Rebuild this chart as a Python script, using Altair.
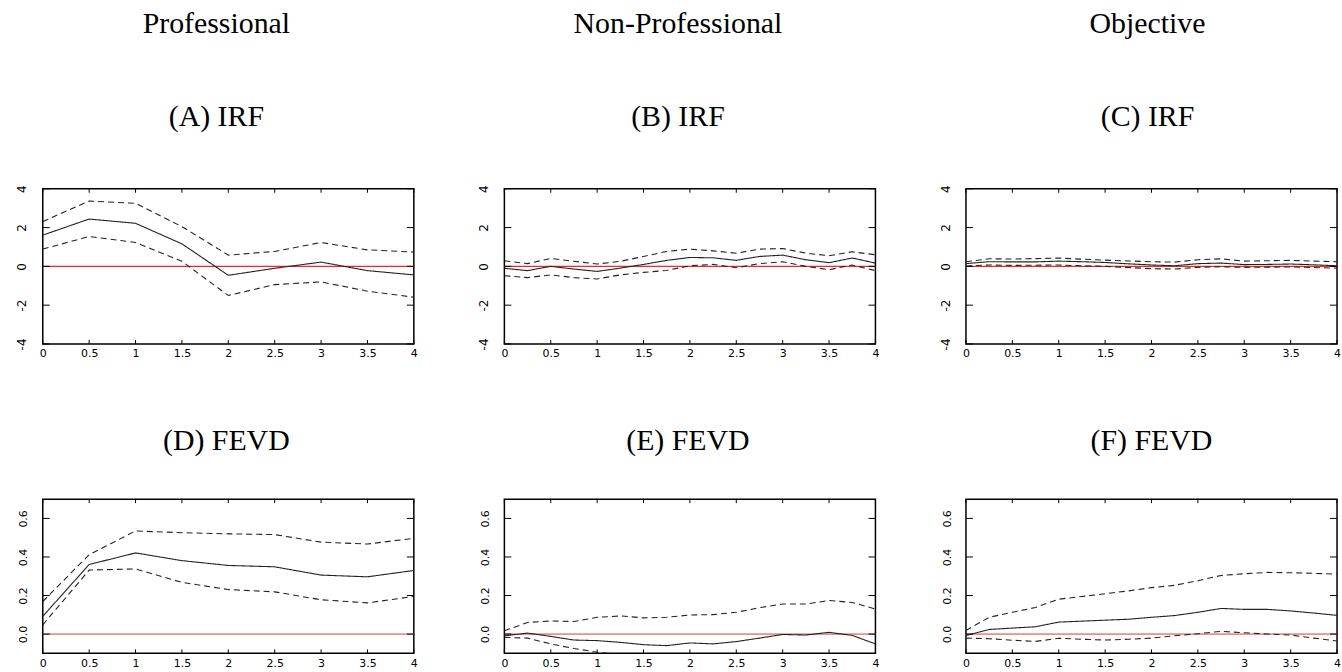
import altair as alt
import pandas as pd

# ---------------- data ----------------
x_half = [0, 0.5, 1, 1.5, 2, 2.5, 3, 3.5, 4]
x_quarter = [0, 0.25, 0.5, 0.75, 1, 1.25, 1.5, 1.75, 2, 2.25, 2.5, 2.75, 3, 3.25, 3.5, 3.75, 4]

# (A) IRF Professional
a_mid = [1.61, 2.44, 2.22, 1.16, -0.46, -0.10, 0.22, -0.22, -0.44]
a_hi = [2.31, 3.37, 3.25, 2.05, 0.58, 0.77, 1.23, 0.85, 0.74]
a_lo = [0.89, 1.54, 1.23, 0.26, -1.50, -0.94, -0.80, -1.28, -1.59]

# (B) IRF Non-Professional
b_mid = [-0.10, -0.22, 0.00, -0.14, -0.26, -0.09, 0.10, 0.31, 0.46, 0.44, 0.31, 0.51, 0.58, 0.34, 0.19, 0.43, 0.17]
b_hi = [0.29, 0.14, 0.41, 0.26, 0.12, 0.26, 0.51, 0.77, 0.89, 0.80, 0.68, 0.89, 0.92, 0.68, 0.55, 0.75, 0.60]
b_lo = [-0.48, -0.58, -0.44, -0.58, -0.65, -0.44, -0.31, -0.21, 0.03, 0.10, -0.07, 0.14, 0.24, 0.00, -0.17, 0.07, -0.22]

# (C) IRF Objective
c_mid = [0.14, 0.24, 0.23, 0.23, 0.27, 0.24, 0.20, 0.13, 0.07, 0.03, 0.14, 0.17, 0.09, 0.10, 0.12, 0.08, 0.03]
c_hi = [0.24, 0.39, 0.38, 0.40, 0.43, 0.37, 0.32, 0.28, 0.24, 0.22, 0.34, 0.39, 0.27, 0.29, 0.31, 0.27, 0.24]
c_lo = [0.02, 0.07, 0.05, 0.06, 0.07, 0.03, 0.00, -0.06, -0.12, -0.14, -0.05, -0.02, -0.05, -0.04, -0.03, -0.06, -0.09]

# (D) FEVD Professional
d_mid = [0.092, 0.361, 0.421, 0.381, 0.356, 0.349, 0.306, 0.297, 0.330]
d_hi = [0.169, 0.412, 0.535, 0.526, 0.520, 0.516, 0.477, 0.467, 0.497]
d_lo = [0.048, 0.332, 0.338, 0.268, 0.231, 0.219, 0.178, 0.162, 0.195]

# (E) FEVD Non-Professional
e_mid = [-0.009, 0.005, -0.012, -0.031, -0.034, -0.043, -0.055, -0.060, -0.046, -0.051, -0.039, -0.021, -0.002, -0.005, 0.009, -0.007, -0.051]
e_hi = [0.017, 0.060, 0.068, 0.065, 0.087, 0.094, 0.084, 0.087, 0.099, 0.101, 0.113, 0.137, 0.156, 0.156, 0.174, 0.164, 0.130]
e_lo = [-0.017, -0.021, -0.051, -0.075, -0.094, -0.106, -0.120, -0.130, -0.125, -0.128, -0.120, -0.112, -0.110, -0.112, -0.105, -0.112, -0.135]

# (F) FEVD Objective
f_mid = [-0.007, 0.024, 0.031, 0.038, 0.062, 0.067, 0.072, 0.077, 0.087, 0.096, 0.113, 0.133, 0.128, 0.128, 0.120, 0.109, 0.097]
f_hi = [0.019, 0.087, 0.113, 0.138, 0.181, 0.195, 0.209, 0.224, 0.241, 0.253, 0.277, 0.304, 0.313, 0.320, 0.318, 0.315, 0.311]
f_lo = [-0.021, -0.024, -0.032, -0.038, -0.022, -0.027, -0.031, -0.027, -0.021, -0.009, 0.002, 0.014, 0.007, 0.000, -0.005, -0.021, -0.036]

x_ticks = [0, 0.5, 1, 1.5, 2, 2.5, 3, 3.5, 4]
irf_ticks = [-4, -2, 0, 2, 4]
fevd_ticks = [0.0, 0.2, 0.4, 0.6]

columns = ["Professional", "Non-Professional", "Objective"]

W = 373
SERIF = "Liberation Serif"
SANS = "DejaVu Sans"


def panel(x, mid, hi, lo, ydom, yticks, ylabel_expr, H, title, subtitle, dx, offset,
          ylab_size, zero_color, zero_width):
    n = len(x)
    df = pd.DataFrame({
        "h": list(x) * 3,
        "v": list(mid) + list(hi) + list(lo),
        "band": ["mid"] * n + ["upper"] * n + ["lower"] * n,
    })
    xs = alt.Scale(domain=[0, 4], nice=False, zero=False)
    ys = alt.Scale(domain=ydom, nice=False, zero=False)
    xaxis = alt.Axis(values=x_ticks, ticks=False, domain=False, grid=False,
                     labelExpr="'' + datum.value", labelFont=SANS, labelFontSize=11,
                     labelPadding=4, labelColor="black", labelFlush=False, labelOverlap=False)
    yaxis = alt.Axis(values=yticks, ticks=False, domain=False, grid=False,
                     labelExpr=ylabel_expr, labelFont=SANS, labelFontSize=ylab_size,
                     labelAngle=270, labelAlign="center", labelBaseline="bottom",
                     labelPadding=14, labelColor="black", labelOverlap=False, labelFlush=False)

    lines = alt.Chart(df).mark_line(clip=True, strokeWidth=1.1, color="#222222").encode(
        x=alt.X("h:Q", scale=xs, title=None, axis=xaxis),
        y=alt.Y("v:Q", scale=ys, title=None, axis=yaxis),
        detail="band:N",
        strokeDash=alt.StrokeDash("band:N", legend=None,
                                  scale=alt.Scale(domain=["mid", "upper", "lower"],
                                                  range=[[1, 0], [6, 4], [6, 4]])),
    )

    zero = alt.Chart(pd.DataFrame({"z": [0]})).mark_rule(
        color=zero_color, strokeWidth=zero_width).encode(
        y=alt.Y("z:Q", scale=ys, title=None, axis=yaxis)
    )

    ydf = pd.DataFrame({"t": yticks})
    xdf = pd.DataFrame({"t": x_ticks})
    yt_left = alt.Chart(ydf).mark_rule(color="black", strokeWidth=1).encode(
        y=alt.Y("t:Q", scale=ys, title=None, axis=yaxis), x=alt.value(0), x2=alt.value(7))
    yt_right = alt.Chart(ydf).mark_rule(color="black", strokeWidth=1).encode(
        y=alt.Y("t:Q", scale=ys, title=None, axis=yaxis), x=alt.value(W), x2=alt.value(W - 7))
    xt_bot = alt.Chart(xdf).mark_rule(color="black", strokeWidth=1).encode(
        x=alt.X("t:Q", scale=xs, title=None, axis=xaxis), y=alt.value(H), y2=alt.value(H - 4))
    xt_top = alt.Chart(xdf).mark_rule(color="black", strokeWidth=1).encode(
        x=alt.X("t:Q", scale=xs, title=None, axis=xaxis), y=alt.value(0), y2=alt.value(4))

    tp = dict(text=title, font=SERIF, fontSize=30, fontWeight="normal", color="black",
              anchor="middle", frame="group", offset=offset, dx=dx)
    if subtitle is not None:
        tp.update(subtitle=subtitle, subtitleFont=SERIF, subtitleFontSize=30,
                  subtitleColor="black", subtitlePadding=64, subtitleFontWeight="normal")
    return alt.layer(zero, lines, yt_left, yt_right, xt_bot, xt_top).properties(
        width=W, height=H, title=alt.TitleParams(**tp))


irf_expr = "'' + datum.value"
fevd_expr = "format(datum.value, '.1f')"

IRF_RED, IRF_W = "#ff2020", 1.3
FEVD_RED, FEVD_W = "#d83a3a", 1.0

pA = panel(x_half, a_mid, a_hi, a_lo, [-4, 4], irf_ticks, irf_expr, 156,
           columns[0], "(A) IRF", -12, 53, 12, IRF_RED, IRF_W)
pB = panel(x_quarter, b_mid, b_hi, b_lo, [-4, 4], irf_ticks, irf_expr, 156,
           columns[1], "(B) IRF", -12, 53, 12, IRF_RED, IRF_W)
pC = panel(x_quarter, c_mid, c_hi, c_lo, [-4, 4], irf_ticks, irf_expr, 156,
           columns[2], "(C) IRF", -4, 53, 12, IRF_RED, IRF_W)
pD = panel(x_half, d_mid, d_hi, d_lo, [-0.1, 0.7], fevd_ticks, fevd_expr, 155,
           "(D) FEVD", None, -2, 43, 11, FEVD_RED, FEVD_W)
pE = panel(x_quarter, e_mid, e_hi, e_lo, [-0.1, 0.7], fevd_ticks, fevd_expr, 155,
           "(E) FEVD", None, -2, 43, 11, FEVD_RED, FEVD_W)
pF = panel(x_quarter, f_mid, f_hi, f_lo, [-0.1, 0.7], fevd_ticks, fevd_expr, 155,
           "(F) FEVD", None, 0, 43, 11, FEVD_RED, FEVD_W)

chart = alt.concat(pA, pB, pC, pD, pE, pF, columns=3,
                   spacing=alt.RowColnumber(row=156, column=91),
                   bounds="flush").properties(
    padding={"left": 15, "top": 6, "right": 0, "bottom": 0},
    background="white",
).configure_view(stroke="black", strokeWidth=1.5)

chart.save("out.html", embed_options={"renderer": "svg", "actions": False})
